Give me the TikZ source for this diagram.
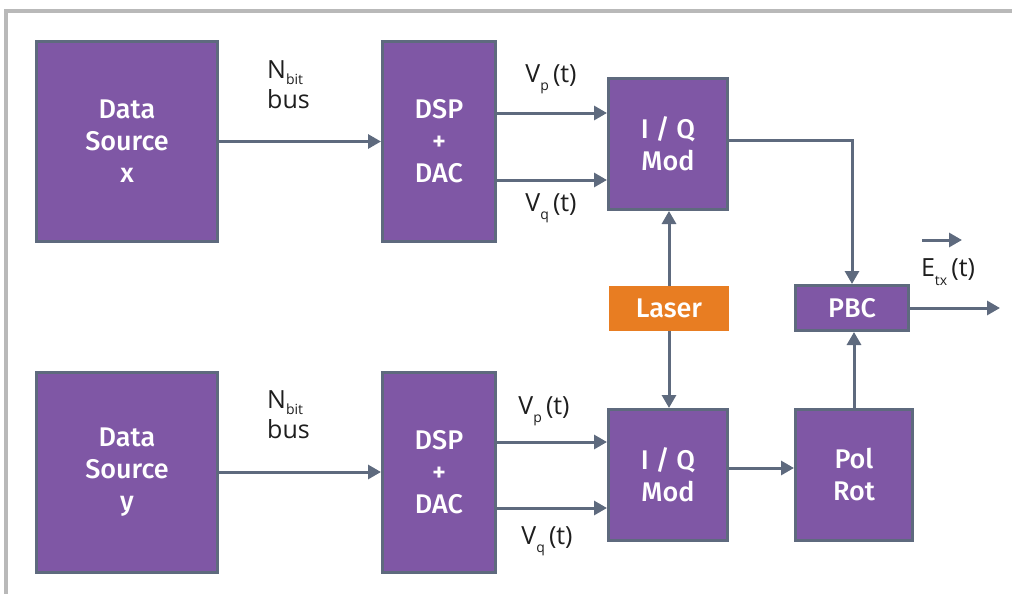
\documentclass[tikz,border=0pt]{standalone}
\usepackage{fontspec}
\setmainfont{Open Sans}
\newfontfamily\boxfont{Fira Sans}[UprightFont={* Medium}]
\usetikzlibrary{
  arrows.meta,
  positioning,
  calc
}
\definecolor{blockcolor}{RGB}{127, 87, 165}
\definecolor{edgecolor}{RGB}{94, 106, 126}
\definecolor{lasercolor}{RGB}{232, 125, 34}
\definecolor{framecolor}{RGB}{185, 185, 185}
\definecolor{labelcolor}{RGB}{30, 30, 30}
\newcommand{\sigsub}[2][-8pt]{\raisebox{#1}{\fontsize{14}{14}\selectfont #2}}
\tikzset{
blocktext/.style={
  align=center,
  font=\boxfont\fontsize{27}{32}\selectfont,
  text=white
},
block/.style={
  draw=edgecolor,
  line width=3pt,
  fill=blockcolor,
  inner sep=0pt,
  blocktext
},
sourceblock/.style={
  block,
  minimum width=181pt,
  minimum height=200pt
},
dspblock/.style={
  block,
  minimum width=113pt,
  minimum height=200pt
},
modblock/.style={
  block,
  minimum width=119pt,
  minimum height=131pt
},
pbcblock/.style={
  block,
  minimum width=113pt,
  minimum height=45pt
},
laserblock/.style={
  fill=lasercolor,
  minimum width=120pt,
  minimum height=45pt,
  inner sep=0pt,
  blocktext
},
siglabel/.style={
  font=\fontsize{25}{27}\selectfont,
  text=labelcolor,
  align=left,
  inner sep=0pt
},
arrow/.style={
  -{Triangle[length=13pt,width=14pt]},
  line width=3pt,
  draw=edgecolor
},
frameline/.style={
  draw=framecolor,
  line width=4pt
}
}

\begin{document}
\begin{tikzpicture}[x=1pt, y=-1pt]
  \useasboundingbox (0,0) rectangle (1012,594);
  \draw[frameline] (6,594) -- (6,11) -- (1012,11);

  % upper branch
  \node[sourceblock] (srcx) at (127,141.5) {Data\\Source\\x};
  \node[dspblock]    (dspx) at (439,141.5) {DSP\\+\\DAC};
  \node[modblock]    (modx) at (668,144)   {I / Q\\Mod};

  % lower branch
  \node[sourceblock] (srcy)   at (127,472) {Data\\Source\\y};
  \node[dspblock]    (dspy)   at (439,472) {DSP\\+\\DAC};
  \node[modblock]    (mody)   at (668,475) {I / Q\\Mod};
  \node[block, minimum width=117pt, minimum height=131pt] (polrot) at (854,475) {Pol\\Rot};

  \node[laserblock] (laser) at (669,308.5) {Laser};
  \node[pbcblock]   (pbc)   at (852,308)   {PBC};
  \coordinate (out) at (1000,308);
  \coordinate (vecs) at (922,240);
  \coordinate (vece) at (962,240);

  % connections
  \draw[arrow] (srcx) -- (dspx);
  \draw[arrow] ([yshift=28.5pt]dspx.east) -- ([yshift=28.5pt]dspx.east -| modx.west);
  \draw[arrow] ([yshift=-38.5pt]dspx.east) -- ([yshift=-38.5pt]dspx.east -| modx.west);
  \draw[arrow] ([yshift=4pt]modx.east) -| (pbc.north);
  \draw[arrow] (srcy) -- (dspy);
  \draw[arrow] ([yshift=30pt]dspy.east) -- ([yshift=30pt]dspy.east -| mody.west);
  \draw[arrow] ([yshift=-36pt]dspy.east) -- ([yshift=-36pt]dspy.east -| mody.west);
  \draw[arrow] ([yshift=7pt]mody.east) -- ([yshift=7pt]mody.east -| polrot.west);
  \draw[arrow] (laser.north) -- (laser.north |- modx.south);
  \draw[arrow] (laser.south) -- (laser.south |- mody.north);
  \draw[arrow] (polrot.north) -- (polrot.north |- pbc.south);
  \draw[arrow] (pbc.east) -- (out);
  \draw[arrow] (vecs) -- (vece);

  % labels
  \node[siglabel, anchor=west] (nbitx) at (267,85) {N\sigsub[-6pt]{bit}\\[3pt]bus};
  \node[siglabel, anchor=west] (nbity) at (267,415) {N\sigsub[-6pt]{bit}\\[3pt]bus};
  \node[siglabel] (vpx) at (551,79)  {V\sigsub{p}\,(t)};
  \node[siglabel] (vqx) at (551,208) {V\sigsub{q}\,(t)};
  \node[siglabel] (vpy) at (544,411) {V\sigsub{p}\,(t)};
  \node[siglabel] (vqy) at (547,541) {V\sigsub{q}\,(t)};
  \node[siglabel] (etx) at (948,272) {E\sigsub[-9pt]{tx}\,(t)};
\end{tikzpicture}
\end{document}
